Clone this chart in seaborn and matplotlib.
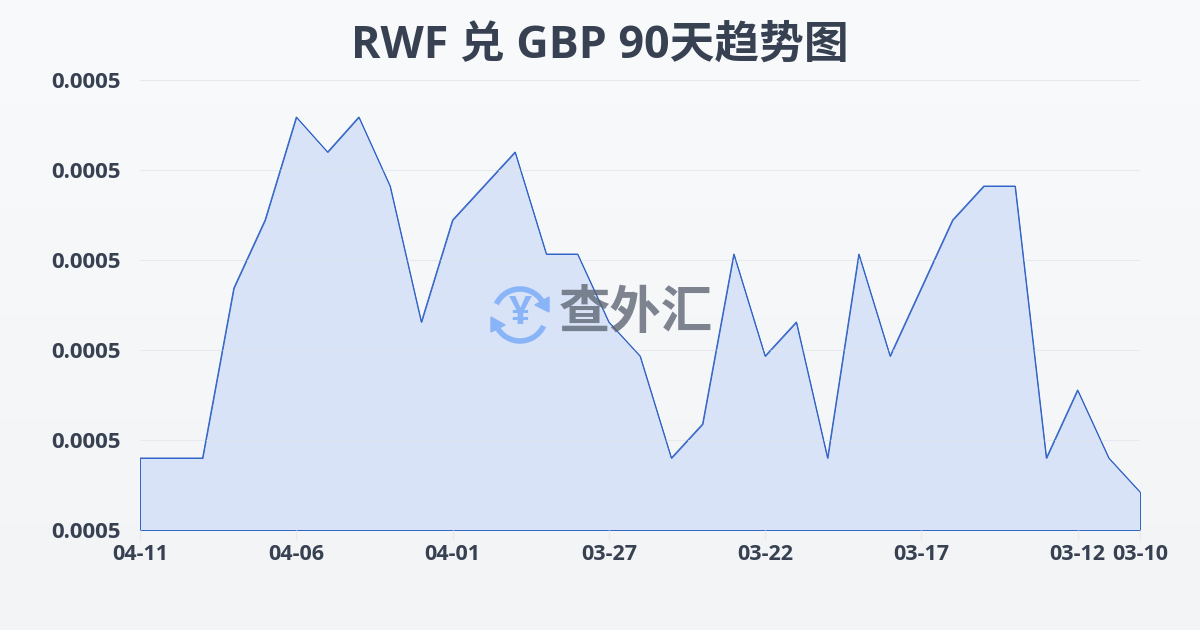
import numpy as np
import pandas as pd
import seaborn as sns
import matplotlib.pyplot as plt
from matplotlib.patches import Arc, Polygon

dates = ['04-11', '04-10', '04-09', '04-08', '04-07', '04-06', '04-05', '04-04', '04-03', '04-02', '04-01',
         '03-31', '03-30', '03-29', '03-28', '03-27', '03-26', '03-25', '03-24', '03-23', '03-22', '03-21',
         '03-20', '03-19', '03-18', '03-17', '03-16', '03-15', '03-14', '03-13', '03-12', '03-11', '03-10']
rates = [0.0004872, 0.0004872, 0.0004872, 0.0005042, 0.0005110, 0.0005213, 0.0005178, 0.0005213, 0.0005144,
         0.0005008, 0.0005110, 0.0005144, 0.0005178, 0.0005076, 0.0005076, 0.0005008, 0.0004974, 0.0004872,
         0.0004906, 0.0005076, 0.0004974, 0.0005008, 0.0004872, 0.0005076, 0.0004974, 0.0005042, 0.0005110,
         0.0005144, 0.0005144, 0.0004872, 0.0004940, 0.0004872, 0.0004838]
shown_dates = ['04-11', '04-06', '04-01', '03-27', '03-22', '03-17', '03-12', '03-10']
y_ticks = [0.000480, 0.000489, 0.000498, 0.000507, 0.000516, 0.000525]

sns.set_theme(style='white')
plt.rcParams['font.family'] = ['Open Sans', 'Noto Sans CJK SC', 'DejaVu Sans']

df = pd.DataFrame({'pos': range(len(dates)), 'date': dates, 'rate': rates})
line_color = '#2f62c6'
text_color = '#374151'

fig = plt.figure(figsize=(12, 6.3), dpi=100)

# background gradient
bg = fig.add_axes([0, 0, 1, 1], zorder=-1)
bg.imshow(np.linspace(0, 1, 256).reshape(-1, 1), aspect='auto', extent=(0, 1, 0, 1),
          cmap=sns.blend_palette(['#f8fafc', '#f2f4f6'], as_cmap=True))
bg.axis('off')

ax = fig.add_axes([140 / 1200, 100 / 630, 1000 / 1200, 450 / 630])
ax.patch.set_alpha(0)
ax.fill_between(df['pos'], df['rate'], y_ticks[0], facecolor='#d9e3f7', edgecolor=line_color, linewidth=0.7, zorder=2)
sns.lineplot(data=df, x='pos', y='rate', color=line_color, linewidth=0.7, ax=ax, zorder=3)

ax.set_xlim(0, len(dates) - 1)
ax.set_ylim(y_ticks[0], y_ticks[-1])
ax.set_xticks([dates.index(d) for d in shown_dates])
ax.set_xticklabels(shown_dates, fontsize=15.5, fontweight='bold', color=text_color)
ax.set_yticks(y_ticks)
ax.set_yticklabels(['%.4f' % v for v in y_ticks], fontsize=16, fontweight='bold', color=text_color,
                   va='center_baseline')
ax.tick_params(axis='x', length=7, width=1, color='#e8eaee', pad=3, bottom=True)
ax.tick_params(axis='y', length=0, pad=13.5)
ax.set_xlabel('')
ax.set_ylabel('')
ax.grid(axis='y', color='#e3e6eb', linewidth=0.8, zorder=1)
ax.set_axisbelow(False)
for line in ax.get_ygridlines():
    line.set_zorder(2.5)
    line.set_alpha(0.8)
sns.despine(ax=ax, left=True, bottom=True, top=True, right=True)

fig.text(600 / 1200, 1 - 46 / 630, 'RWF 兑 GBP 90天趋势图', ha='center', va='center',
         fontsize=32.2, fontweight='bold', color=text_color)

# watermark logo, in pixel coordinates
over = fig.add_axes([0, 0, 1, 1], zorder=5)
over.set_xlim(0, 1200)
over.set_ylim(630, 0)
over.axis('off')
logo = '#8ab4f8'
over.add_patch(Arc((520, 315), 52, 52, theta1=205, theta2=345, color=logo, lw=4))
over.add_patch(Arc((520, 315), 52, 52, theta1=25, theta2=165, color=logo, lw=4))
over.add_patch(Polygon([(549, 297), (549, 312), (535, 305)], color=logo))
over.add_patch(Polygon([(491, 317), (491, 332), (505, 325)], color=logo))
over.text(520, 314, '¥', ha='center', va='center', fontsize=29, fontweight='bold', color=logo)
over.text(636, 315, '查外汇', ha='center', va='center', fontsize=37, fontweight='bold', color='#5c6472', alpha=0.78)

fig.savefig('out.png', dpi=100)
